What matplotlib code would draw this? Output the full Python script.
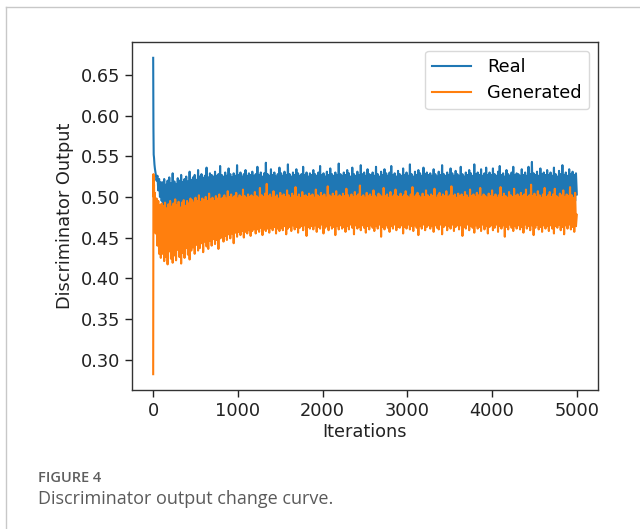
import numpy as np
import matplotlib
matplotlib.use("Agg")
import matplotlib.pyplot as plt
from matplotlib.lines import Line2D

# Discriminator outputs over training iterations.
# First 100 iterations are logged densely, afterwards every 10 iterations.
iters_head = [0, 3, 6, 10, 15, 20, 30, 40, 50, 60, 70, 80, 90, 100]
iters_step = 10
iters_start = 110

real_head = [0.671, 0.585, 0.552, 0.548, 0.540, 0.535, 0.528, 0.520,
             0.526, 0.508, 0.522, 0.500, 0.518, 0.495]
gen_head = [0.282, 0.528, 0.500, 0.515, 0.470, 0.505, 0.455, 0.498,
            0.440, 0.495, 0.430, 0.490, 0.425, 0.492]

real_tail = [
    0.518, 0.484, 0.522, 0.487, 0.515, 0.482, 0.520, 0.489, 0.524, 0.485, 0.517, 0.488, 0.529, 0.483, 0.519, 0.490, 0.516, 0.486,
    0.523, 0.489, 0.520, 0.484, 0.527, 0.491, 0.518, 0.487, 0.522, 0.490, 0.525, 0.488, 0.519, 0.492, 0.531, 0.489, 0.521,
    0.493, 0.524, 0.490, 0.527, 0.494, 0.521, 0.492, 0.533, 0.495, 0.525, 0.491, 0.528, 0.496, 0.523, 0.493, 0.526, 0.497, 0.536,
    0.494, 0.524, 0.495, 0.529, 0.492, 0.527, 0.496, 0.525, 0.494, 0.531, 0.497, 0.526, 0.495, 0.528, 0.493, 0.538, 0.496,
    0.527, 0.495, 0.525, 0.498, 0.530, 0.494, 0.526, 0.497, 0.535, 0.496, 0.528, 0.499, 0.524, 0.495, 0.529, 0.497, 0.526, 0.494,
    0.539, 0.498, 0.527, 0.496, 0.530, 0.495, 0.525, 0.499, 0.528, 0.497, 0.533, 0.494, 0.526, 0.498, 0.529, 0.496, 0.527,
    0.497, 0.531, 0.495, 0.526, 0.499, 0.528, 0.496, 0.537, 0.498, 0.527, 0.494, 0.530, 0.497, 0.525, 0.499, 0.529, 0.495, 0.542,
    0.498, 0.528, 0.496, 0.526, 0.499, 0.534, 0.495, 0.527, 0.498, 0.530, 0.496, 0.525, 0.499, 0.528, 0.497, 0.536, 0.495,
    0.529, 0.498, 0.526, 0.496, 0.531, 0.499, 0.527, 0.495, 0.540, 0.497, 0.528, 0.499, 0.525, 0.496, 0.530, 0.498, 0.527, 0.495,
    0.534, 0.497, 0.529, 0.499, 0.526, 0.496, 0.528, 0.498, 0.537, 0.495, 0.527, 0.497, 0.530, 0.499, 0.525, 0.496, 0.529,
    0.498, 0.527, 0.495, 0.533, 0.497, 0.528, 0.499, 0.526, 0.496, 0.530, 0.498, 0.538, 0.495, 0.527, 0.497, 0.529, 0.499, 0.525,
    0.496, 0.531, 0.498, 0.527, 0.495, 0.535, 0.497, 0.528, 0.499, 0.526, 0.496, 0.530, 0.498, 0.527, 0.495, 0.541, 0.497,
    0.528, 0.499, 0.526, 0.496, 0.530, 0.498, 0.527, 0.495, 0.533, 0.497, 0.529, 0.499, 0.525, 0.496, 0.536, 0.498, 0.528, 0.495,
    0.526, 0.497, 0.531, 0.499, 0.527, 0.496, 0.539, 0.498, 0.528, 0.495, 0.530, 0.497, 0.526, 0.499, 0.534, 0.496, 0.528,
    0.498, 0.527, 0.495, 0.530, 0.497, 0.526, 0.499, 0.537, 0.496, 0.528, 0.498, 0.525, 0.495, 0.531, 0.497, 0.527, 0.499, 0.534,
    0.496, 0.529, 0.498, 0.526, 0.495, 0.530, 0.497, 0.538, 0.499, 0.527, 0.496, 0.529, 0.498, 0.525, 0.495, 0.532, 0.497,
    0.528, 0.499, 0.526, 0.496, 0.535, 0.498, 0.527, 0.495, 0.530, 0.497, 0.526, 0.499, 0.540, 0.496, 0.528, 0.498, 0.525, 0.495,
    0.531, 0.497, 0.527, 0.499, 0.533, 0.496, 0.529, 0.498, 0.526, 0.495, 0.536, 0.497, 0.528, 0.499, 0.530, 0.496, 0.527,
    0.498, 0.529, 0.495, 0.526, 0.497, 0.534, 0.499, 0.528, 0.496, 0.525, 0.498, 0.531, 0.495, 0.527, 0.497, 0.539, 0.499, 0.528,
    0.496, 0.526, 0.498, 0.530, 0.495, 0.527, 0.497, 0.535, 0.499, 0.529, 0.496, 0.526, 0.498, 0.532, 0.495, 0.528, 0.497,
    0.526, 0.499, 0.537, 0.496, 0.528, 0.498, 0.525, 0.495, 0.530, 0.497, 0.527, 0.499, 0.533, 0.496, 0.529, 0.498, 0.526, 0.495,
    0.540, 0.497, 0.528, 0.499, 0.530, 0.496, 0.527, 0.498, 0.534, 0.495, 0.526, 0.497, 0.529, 0.499, 0.536, 0.496, 0.527,
    0.498, 0.530, 0.495, 0.527, 0.497, 0.535, 0.499, 0.528, 0.496, 0.526, 0.498, 0.531, 0.495, 0.538, 0.497, 0.527, 0.499, 0.529,
    0.496, 0.525, 0.498, 0.533, 0.495, 0.528, 0.497, 0.526, 0.499, 0.530, 0.496, 0.537, 0.498, 0.527, 0.495, 0.529, 0.497,
    0.528, 0.499, 0.526, 0.496, 0.534, 0.498, 0.527, 0.495, 0.530, 0.497, 0.526, 0.499, 0.537, 0.496, 0.528, 0.498, 0.543, 0.495,
    0.529, 0.497, 0.527, 0.499, 0.531, 0.496, 0.526, 0.498, 0.535, 0.495, 0.528, 0.497, 0.530, 0.499, 0.527, 0.496, 0.533,
    0.498, 0.527, 0.495, 0.530, 0.497, 0.526, 0.499, 0.536, 0.496, 0.528, 0.498, 0.525, 0.495, 0.532, 0.497, 0.528, 0.499, 0.539,
    0.496, 0.527, 0.498, 0.530, 0.495, 0.526, 0.497, 0.534, 0.499, 0.528, 0.496, 0.531, 0.498, 0.527, 0.495, 0.529, 0.503,
]

gen_tail = [
    0.430, 0.489, 0.421, 0.493, 0.426, 0.486, 0.417, 0.491, 0.433, 0.495, 0.424, 0.488, 0.419, 0.492, 0.428, 0.497, 0.422, 0.490,
    0.435, 0.494, 0.426, 0.487, 0.418, 0.493, 0.431, 0.496, 0.425, 0.489, 0.437, 0.495, 0.429, 0.492, 0.423, 0.498, 0.434,
    0.496, 0.438, 0.493, 0.430, 0.499, 0.441, 0.495, 0.434, 0.502, 0.437, 0.494, 0.443, 0.498, 0.432, 0.496, 0.445, 0.500, 0.439,
    0.495, 0.436, 0.504, 0.446, 0.497, 0.440, 0.499, 0.448, 0.495, 0.442, 0.501, 0.447, 0.498, 0.436, 0.503, 0.449, 0.497,
    0.450, 0.499, 0.445, 0.502, 0.452, 0.498, 0.447, 0.507, 0.454, 0.500, 0.449, 0.503, 0.455, 0.499, 0.443, 0.501, 0.456, 0.505,
    0.451, 0.498, 0.457, 0.502, 0.453, 0.500, 0.458, 0.509, 0.450, 0.501, 0.457, 0.499, 0.455, 0.503, 0.459, 0.500, 0.452,
    0.502, 0.458, 0.500, 0.461, 0.506, 0.455, 0.501, 0.460, 0.499, 0.457, 0.511, 0.462, 0.502, 0.453, 0.500, 0.460, 0.504, 0.458,
    0.516, 0.461, 0.501, 0.456, 0.503, 0.462, 0.499, 0.459, 0.507, 0.463, 0.500, 0.455, 0.502, 0.461, 0.498, 0.458, 0.505,
    0.462, 0.501, 0.459, 0.503, 0.464, 0.500, 0.454, 0.508, 0.461, 0.502, 0.463, 0.499, 0.458, 0.504, 0.465, 0.501, 0.460, 0.512,
    0.463, 0.500, 0.456, 0.503, 0.462, 0.499, 0.464, 0.506, 0.459, 0.501, 0.465, 0.502, 0.452, 0.500, 0.463, 0.504, 0.461,
    0.501, 0.464, 0.503, 0.460, 0.499, 0.465, 0.509, 0.457, 0.502, 0.463, 0.500, 0.461, 0.505, 0.466, 0.501, 0.455, 0.503, 0.462,
    0.499, 0.464, 0.513, 0.459, 0.502, 0.465, 0.500, 0.461, 0.504, 0.463, 0.501, 0.453, 0.507, 0.464, 0.500, 0.460, 0.502,
    0.465, 0.500, 0.461, 0.504, 0.463, 0.501, 0.457, 0.510, 0.464, 0.502, 0.460, 0.499, 0.466, 0.503, 0.462, 0.500, 0.454, 0.506,
    0.465, 0.501, 0.461, 0.503, 0.463, 0.514, 0.459, 0.500, 0.465, 0.502, 0.462, 0.499, 0.456, 0.505, 0.464, 0.501, 0.460,
    0.503, 0.465, 0.500, 0.462, 0.508, 0.458, 0.501, 0.464, 0.499, 0.461, 0.504, 0.466, 0.502, 0.451, 0.500, 0.463, 0.511, 0.460,
    0.501, 0.465, 0.503, 0.462, 0.499, 0.457, 0.506, 0.464, 0.500, 0.461, 0.502, 0.466, 0.509, 0.459, 0.501, 0.463, 0.500,
    0.462, 0.504, 0.465, 0.500, 0.455, 0.502, 0.463, 0.507, 0.461, 0.501, 0.466, 0.499, 0.460, 0.503, 0.464, 0.512, 0.458, 0.500,
    0.465, 0.502, 0.462, 0.505, 0.453, 0.501, 0.464, 0.499, 0.461, 0.504, 0.466, 0.500, 0.459, 0.508, 0.463, 0.502, 0.465,
    0.500, 0.461, 0.503, 0.464, 0.501, 0.457, 0.510, 0.465, 0.499, 0.462, 0.502, 0.460, 0.505, 0.466, 0.500, 0.454, 0.503, 0.463,
    0.501, 0.465, 0.507, 0.459, 0.500, 0.464, 0.502, 0.461, 0.513, 0.466, 0.501, 0.458, 0.503, 0.463, 0.499, 0.465, 0.504,
    0.460, 0.501, 0.465, 0.503, 0.452, 0.500, 0.463, 0.506, 0.461, 0.502, 0.466, 0.499, 0.459, 0.509, 0.464, 0.501, 0.462, 0.503,
    0.456, 0.500, 0.465, 0.505, 0.461, 0.502, 0.463, 0.511, 0.458, 0.500, 0.466, 0.503, 0.460, 0.501, 0.464, 0.499, 0.455,
    0.504, 0.463, 0.501, 0.465, 0.508, 0.459, 0.500, 0.462, 0.503, 0.466, 0.499, 0.457, 0.502, 0.464, 0.512, 0.461, 0.500, 0.465,
    0.504, 0.451, 0.501, 0.463, 0.499, 0.460, 0.506, 0.466, 0.502, 0.462, 0.500, 0.458, 0.510, 0.464, 0.501, 0.461, 0.503,
    0.465, 0.500, 0.460, 0.505, 0.463, 0.501, 0.456, 0.503, 0.466, 0.509, 0.461, 0.500, 0.464, 0.502, 0.459, 0.515, 0.465, 0.501,
    0.453, 0.504, 0.462, 0.500, 0.466, 0.507, 0.460, 0.502, 0.463, 0.499, 0.457, 0.503, 0.465, 0.511, 0.461, 0.500, 0.464,
    0.502, 0.458, 0.506, 0.465, 0.500, 0.461, 0.503, 0.455, 0.510, 0.464, 0.501, 0.462, 0.499, 0.466, 0.504, 0.459, 0.502, 0.463,
    0.508, 0.454, 0.500, 0.465, 0.503, 0.461, 0.501, 0.466, 0.512, 0.460, 0.502, 0.463, 0.499, 0.457, 0.505, 0.464, 0.478,
]

series_labels = ["Real", "Generated"]
x_label = "Iterations"
y_label = "Discriminator Output"
caption_tag = "FIGURE 4"
caption_text = "Discriminator output change curve."

real = np.concatenate([real_head, real_tail])
gen = np.concatenate([gen_head, gen_tail])
x_real = np.concatenate([iters_head, iters_start + iters_step * np.arange(len(real_tail))])
x_gen = np.concatenate([iters_head, iters_start + iters_step * np.arange(len(gen_tail))])

W, H = 640, 529
fig = plt.figure(figsize=(W / 100, H / 100), dpi=100)
fig.patch.set_facecolor("white")

# page frame
frame_col = "#c8c8c8"
fig.add_artist(Line2D([6 / W, 1.0], [1 - 7 / H, 1 - 7 / H], transform=fig.transFigure,
                      color=frame_col, lw=1.0))
fig.add_artist(Line2D([6 / W, 6 / W], [0.0, 1 - 7 / H], transform=fig.transFigure,
                      color=frame_col, lw=1.0))

ax = fig.add_axes([132 / W, 1 - 390 / H, 466 / W, 348 / H])
fs = 12.8
ax.plot(x_real, real, color="#1f77b4", lw=1.5, label=series_labels[0])
ax.plot(x_gen, gen, color="#ff7f0e", lw=1.5, label=series_labels[1])

ax.set_xlabel(x_label, fontsize=fs, color="#222222", labelpad=2)
ax.set_ylabel(y_label, fontsize=fs, color="#222222", labelpad=5)
ax.tick_params(labelsize=fs, colors="#222222", length=5, width=1)
for sp in ax.spines.values():
    sp.set_color("#333333")
    sp.set_linewidth(1.0)

leg = ax.legend(fontsize=fs, loc="upper right", handlelength=2.2,
                borderpad=0.4, labelspacing=0.45, handletextpad=0.9)
leg.get_frame().set_edgecolor("#d0d0d0")

fig.text(38 / W, 1 - 478 / H, caption_tag, fontsize=10.5, color="#5e5e5e",
         family="Open Sans", fontweight="semibold", va="center", ha="left")
fig.text(38 / W, 1 - 499 / H, caption_text, fontsize=13.0, color="#5a5a5a",
         family="Open Sans", va="center", ha="left")

fig.savefig("out.png", dpi=100, facecolor="white")
